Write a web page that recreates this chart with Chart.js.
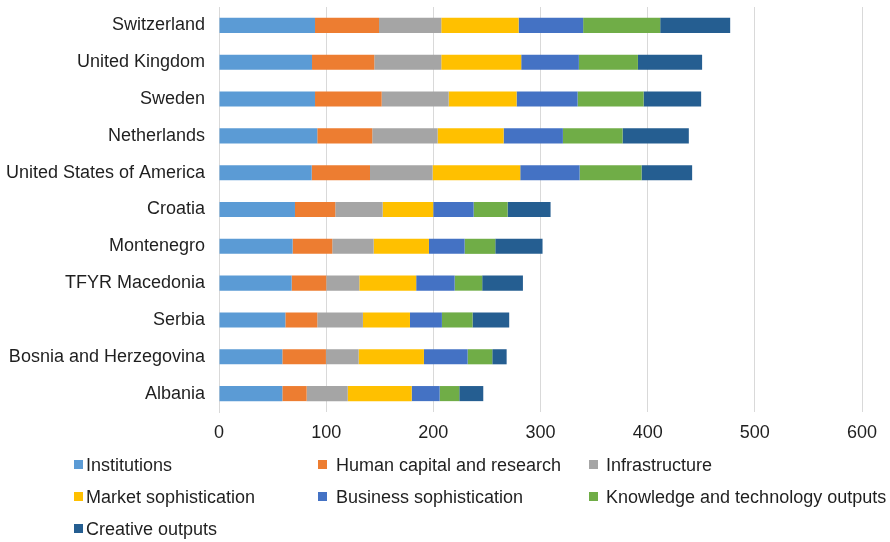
<!DOCTYPE html>
<html>
<head>
<meta charset="utf-8">
<script src="https://cdn.jsdelivr.net/npm/chart.js@4/dist/chart.umd.min.js"></script>
<style>
  html, body { margin: 0; padding: 0; background: #fff; }
  #wrap { width: 890px; height: 542px; position: relative; }
</style>
</head>
<body>
<div id="wrap"><canvas id="c" width="890" height="542"></canvas></div>
<script>
const countries = ["Switzerland", "United Kingdom", "Sweden", "Netherlands", "United States of America",
  "Croatia", "Montenegro", "TFYR Macedonia", "Serbia", "Bosnia and Herzegovina", "Albania"];
const seriesNames = ["Institutions", "Human capital and research", "Infrastructure",
  "Market sophistication", "Business sophistication", "Knowledge and technology outputs", "Creative outputs"];
const institutions = [89.6, 86.8, 89.6, 91.7, 86.5, 70.9, 68.7, 67.8, 61.9, 59.1, 59.1];
const humanCapital = [59.7, 58.1, 62.2, 51.3, 54.4, 37.6, 37.0, 32.3, 29.8, 40.7, 22.7];
const infrastructure = [58.1, 62.5, 62.5, 61.0, 58.4, 44.2, 38.6, 30.8, 42.6, 30.5, 38.3];
const marketSoph = [72.2, 74.6, 63.4, 61.6, 81.8, 47.2, 51.6, 53.1, 43.9, 60.9, 59.7];
const businessSoph = [60.2, 53.8, 56.9, 55.3, 55.4, 37.7, 33.3, 35.9, 29.8, 40.8, 26.1];
const knowledgeTech = [71.9, 55.1, 61.6, 55.7, 57.8, 31.7, 28.6, 25.7, 28.6, 23.0, 18.3];
const creativeOut = [65.3, 59.9, 53.7, 61.8, 47.2, 40.1, 44.1, 38.0, 34.2, 13.4, 22.4];
const xTicks = [0, 100, 200, 300, 400, 500, 600];

const seriesValues = [institutions, humanCapital, infrastructure, marketSoph, businessSoph, knowledgeTech, creativeOut];
const colors = ["#5B9BD5", "#ED7D31", "#A5A5A5", "#FFC000", "#4472C4", "#70AD47", "#255E91"];

const FONT = "'Liberation Sans', Arial, sans-serif";
const TEXT = "#1f1f1f";

const legendPlugin = {
  id: "gridLegend",
  afterDraw(chart) {
    const ctx = chart.ctx;
    const colX = [74, 318, 589];
    const textX = [86, 336, 606];
    const rowY = [465, 497, 529];
    ctx.save();
    ctx.font = "18px " + FONT;
    ctx.textBaseline = "middle";
    chart.data.datasets.forEach((ds, i) => {
      const col = i % 3, row = Math.floor(i / 3);
      ctx.fillStyle = ds.backgroundColor;
      ctx.fillRect(colX[col], rowY[row] - 5, 9, 9);
      ctx.fillStyle = TEXT;
      ctx.fillText(ds.label, textX[col], rowY[row] + 1);
    });
    ctx.restore();
  }
};

new Chart(document.getElementById("c"), {
  type: "bar",
  data: {
    labels: countries,
    datasets: seriesNames.map((name, i) => ({
      label: name,
      data: seriesValues[i],
      backgroundColor: colors[i],
      borderWidth: 0,
      barPercentage: 0.41,
      categoryPercentage: 1.0
    }))
  },
  options: {
    indexAxis: "y",
    responsive: false,
    animation: false,
    layout: { padding: { left: 0, right: 28, top: 7, bottom: 100 } },
    plugins: { legend: { display: false }, tooltip: { enabled: false } },
    scales: {
      x: {
        stacked: true,
        min: 0, max: 600,
        afterBuildTicks(scale) { scale.ticks = xTicks.map(v => ({ value: v })); },
        grid: { color: "#d9d9d9", lineWidth: 1, drawTicks: false },
        border: { display: false },
        ticks: { color: TEXT, font: { family: FONT, size: 18 }, padding: 10 },
        afterFit(scale) { scale.height = 30; scale.paddingLeft = 0; scale.paddingRight = 0; }
      },
      y: {
        stacked: true,
        grid: { display: false, drawTicks: false },
        border: { display: true, color: "#d9d9d9", width: 1 },
        ticks: { color: TEXT, font: { family: FONT, size: 18 }, padding: 14 },
        afterFit(scale) { scale.width = 219; scale.paddingTop = 0; scale.paddingBottom = 0; }
      }
    }
  },
  plugins: [legendPlugin]
});
</script>
</body>
</html>
